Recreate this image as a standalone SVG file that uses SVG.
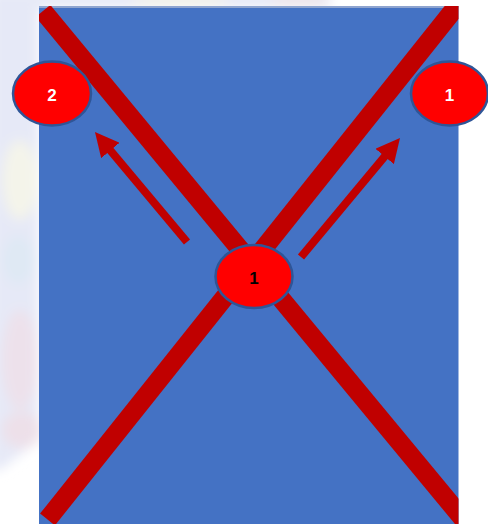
<svg xmlns="http://www.w3.org/2000/svg" width="488" height="524" viewBox="0 0 488 524">
  <style>
    .node ellipse { fill: #ff0000; stroke: #2f5597; stroke-width: 2.5; }
    .lbl { font-family: "Liberation Sans", Arial, sans-serif; font-weight: bold; font-size: 17px; text-anchor: middle; dominant-baseline: central; }
    .xline { stroke: #c00000; stroke-width: 19; stroke-linecap: butt; fill: none; }
    .arrow { stroke: #c00000; stroke-width: 8; fill: none; marker-end: url(#head); }
  </style>
  <defs>
    <marker id="head" markerUnits="userSpaceOnUse" viewBox="0 0 24 24" markerWidth="24" markerHeight="24" refX="14" refY="12" orient="auto">
      <path d="M0,0 L24,12 L0,24 Z" fill="#c00000"/>
    </marker>
    <clipPath id="rectClip">
      <rect x="39" y="6" width="419.5" height="518"/>
    </clipPath>
    <filter id="soft" x="-50%" y="-50%" width="200%" height="200%">
      <feGaussianBlur stdDeviation="6"/>
    </filter>
  </defs>

  <rect width="488" height="524" fill="#ffffff"/>
  <g id="background-wash" filter="url(#soft)">
    <path d="M-10,-10 L330,-10 L330,8 L39,8 L39,440 L0,470 L-10,470 Z" fill="#e6e9f7"/>
    <ellipse cx="20" cy="180" rx="18" ry="40" fill="#f8f6e6" opacity="0.8"/>
    <ellipse cx="18" cy="260" rx="16" ry="25" fill="#dde8f3" opacity="0.8"/>
    <ellipse cx="20" cy="360" rx="18" ry="50" fill="#f0dde6" opacity="0.7"/>
    <ellipse cx="22" cy="430" rx="20" ry="18" fill="#f0dce3" opacity="0.7"/>
    <ellipse cx="180" cy="0" rx="50" ry="6" fill="#f6f4e2" opacity="0.8"/>
    <ellipse cx="300" cy="0" rx="30" ry="6" fill="#f0e2e4" opacity="0.8"/>
  </g>

  <g id="panel">
    <rect x="39" y="6" width="419.5" height="518" fill="#4472c4"/>
    <line x1="39" y1="7" x2="458.5" y2="7" stroke="#8ea4cf" stroke-width="2"/>
  </g>

  <g id="cross" clip-path="url(#rectClip)">
    <line class="xline" x1="43" y1="11" x2="483" y2="543"/>
    <line class="xline" x1="47.5" y1="519.5" x2="462" y2="-0.5"/>
  </g>

  <g id="connectors">
    <line class="arrow" x1="187" y1="242" x2="101.4" y2="139.7"/>
    <line class="arrow" x1="301" y1="257" x2="393.6" y2="145.7"/>
  </g>

  <g id="node-left" class="node">
    <ellipse cx="52" cy="93.5" rx="39" ry="32"/>
    <text class="lbl" x="52" y="95" fill="#ffffff">2</text>
  </g>
  <g id="node-right" class="node">
    <ellipse cx="449.5" cy="93.5" rx="38.5" ry="32"/>
    <text class="lbl" x="449.5" y="95" fill="#ffffff">1</text>
  </g>
  <g id="node-center" class="node">
    <ellipse cx="254" cy="276.5" rx="38.5" ry="31.5"/>
    <text class="lbl" x="254" y="278" fill="#000000">1</text>
  </g>
</svg>
